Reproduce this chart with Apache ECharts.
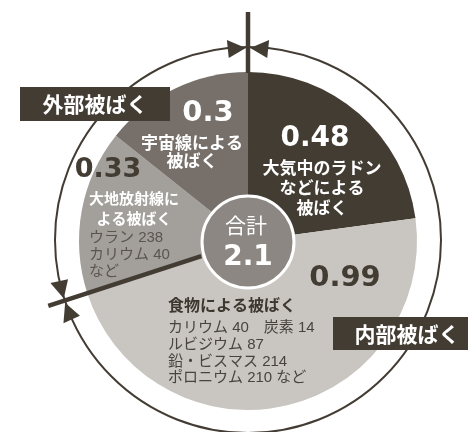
<!DOCTYPE html>
<html>
<head>
<meta charset="utf-8">
<script src="https://cdn.jsdelivr.net/npm/echarts@6/dist/echarts.min.js"></script>
<style>html,body{margin:0;padding:0;background:#fff;}#c{width:468px;height:432px;}</style>
</head>
<body>
<div id="c"></div>
<script>
// ---- data ----
var categories = ['大気中のラドンなどによる被ばく', '食物による被ばく', '大地放射線による被ばく', '宇宙線による被ばく'];
var values = [0.48, 0.99, 0.33, 0.3];
var valueLabels = ['0.48', '0.99', '0.33', '0.3'];
var totalLabel = '2.1';
var groupLabels = ['外部被ばく', '内部被ばく'];
var detailRadon = ['大気中のラドン', 'などによる', '被ばく'];
var detailFood = ['カリウム 40　炭素 14', 'ルビジウム 87', '鉛・ビスマス 214', 'ポロニウム 210 など'];
var detailGround = ['ウラン 238', 'カリウム 40', 'など'];
var detailCosmic = ['宇宙線による', '被ばく'];
var detailGroundTitle = ['大地放射線に', 'よる被ばく'];

var colors = ['#423c33', '#c9c6c1', '#a39f9a', '#77706a'];
var DARK = '#423c33';
var JP = '"Noto Sans CJK JP", sans-serif';
var SM = '"Liberation Sans", "Noto Sans CJK JP", sans-serif';
var NUM = '"DejaVu Sans", sans-serif';

var cx = 248, cy = 241, R = 169, RO = 193;
var total = values.reduce(function (a, b) { return a + b; }, 0);

function pt(deg, r) { // clockwise from top
  var a = deg * Math.PI / 180;
  return [cx + r * Math.sin(a), cy - r * Math.cos(a)];
}
function arrow(deg, dir) {
  var off = 2.2 / RO, len = 18 / RO;
  var a0 = deg * Math.PI / 180 + dir * off;
  var a1 = a0 + dir * len;
  var tip = [cx + RO * Math.sin(a0), cy - RO * Math.cos(a0)];
  var b1 = [cx + (RO - 9) * Math.sin(a1), cy - (RO - 9) * Math.cos(a1)];
  var b2 = [cx + (RO + 9) * Math.sin(a1), cy - (RO + 9) * Math.cos(a1)];
  return { type: 'polygon', z: 20, shape: { points: [tip, b1, b2] }, style: { fill: DARK } };
}
function txt(t, x, y, font, fill, align) {
  return { type: 'text', z: 30, style: { text: t, x: x, y: y, font: font, fill: fill, textAlign: align || 'center', textVerticalAlign: 'middle' } };
}

var splitDeg = (values[0] + values[1]) / total * 360;
var pIn = pt(splitDeg, 49), pOut = pt(splitDeg, 210);

var g = [];
g.push({ type: 'circle', z: 5, shape: { cx: cx, cy: cy - 1, r: RO }, style: { fill: 'none', stroke: DARK, lineWidth: 2 } });
g.push({ type: 'line', z: 20, shape: { x1: cx, y1: 12, x2: cx, y2: cy - R + 1 }, style: { stroke: DARK, lineWidth: 4.5 } });
g.push({ type: 'line', z: 20, shape: { x1: pIn[0], y1: pIn[1], x2: pOut[0], y2: pOut[1] }, style: { stroke: DARK, lineWidth: 4.5 } });
g.push(arrow(0, -1), arrow(0, 1), arrow(splitDeg, -1), arrow(splitDeg, 1));
g.push({ type: 'rect', z: 25, shape: { x: 20, y: 87, width: 150, height: 34 }, style: { fill: DARK } });
g.push(txt(groupLabels[0], 95, 104, 'bold 21px ' + JP, '#fff'));
g.push({ type: 'rect', z: 25, shape: { x: 333, y: 317, width: 140, height: 33 }, style: { fill: DARK } });
g.push(txt(groupLabels[1], 407, 334, 'bold 21px ' + JP, '#fff'));
g.push(txt(valueLabels[0], 315, 139, 'bold 28px ' + NUM, '#fff'));
g.push(txt(valueLabels[1], 345, 278, 'bold 29px ' + NUM, DARK));
g.push(txt(valueLabels[2], 108, 170, 'bold 27px ' + NUM, DARK));
g.push(txt(valueLabels[3], 208, 113, 'bold 29px ' + NUM, '#fff'));
[168, 188, 208].forEach(function (y, i) { g.push(txt(detailRadon[i], 322, y, 'bold 17px ' + JP, '#fff')); });
[143, 161].forEach(function (y, i) { g.push(txt(detailCosmic[i], 192, y, 'bold 17px ' + JP, '#fff')); });
[198, 218].forEach(function (y, i) { g.push(txt(detailGroundTitle[i], 134, y, 'bold 15px ' + JP, '#fff')); });
[238, 255, 272].forEach(function (y, i) { g.push(txt(detailGround[i], 89, y, '15px ' + SM, '#5a554f', 'left')); });
g.push(txt(categories[1], 168, 305, 'bold 16px ' + JP, '#3c372f', 'left'));
[328, 345, 362, 378].forEach(function (y, i) { g.push(txt(detailFood[i], 168, y, '15px ' + SM, '#48433d', 'left')); });

var chart = echarts.init(document.getElementById('c'), null, { renderer: 'canvas' });
chart.setOption({
  animation: false,
  series: [
    {
      type: 'pie', silent: true, center: [cx, cy], radius: [0, R], startAngle: 90, clockwise: true,
      label: { show: false }, labelLine: { show: false },
      data: values.map(function (v, i) { return { name: categories[i], value: v, itemStyle: { color: colors[i] } }; })
    },
    {
      type: 'pie', silent: true, center: [cx, cy + 1], radius: [0, 46], z: 15,
      itemStyle: { color: '#8c8782', borderColor: '#fff', borderWidth: 3 },
      label: {
        show: true, position: 'center', formatter: '{a|合計}\n{b|' + totalLabel + '}',
        rich: {
          a: { fontFamily: JP, fontSize: 21, color: '#fff', lineHeight: 32, padding: [0, 4, 0, 0] },
          b: { fontFamily: NUM, fontWeight: 'bold', fontSize: 28, color: '#fff', lineHeight: 34 }
        }
      },
      data: [{ name: '合計', value: total }]
    }
  ],
  graphic: g
});
</script>
</body>
</html>
